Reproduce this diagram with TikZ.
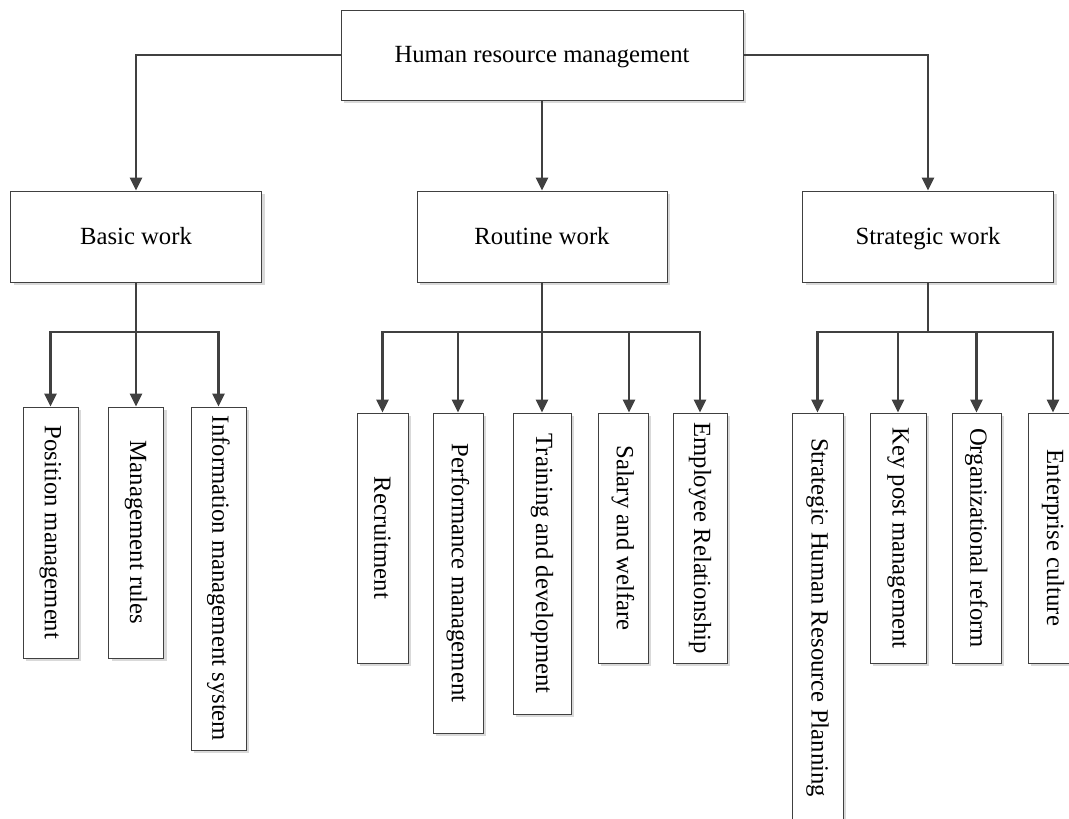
\documentclass[tikz,border=0pt]{standalone}
\usepackage{fontspec}
\setmainfont{Liberation Serif}
\usetikzlibrary{arrows.meta,shadows}
\tikzset{
    box/.style={draw=black!75, line width=1pt, fill=white, inner sep=0pt,
        drop shadow={shadow xshift=3pt, shadow yshift=-3pt, fill=black!15, opacity=1},
        font=\fontsize{24.7}{30}\selectfont},
    hbox/.style={box, text height=19pt, text depth=4pt},
    wire/.style={draw=black!75, line width=2.6pt},
    arr/.style={wire, -{Triangle[length=13pt,width=12pt]}},
}
\newcommand{\vtext}[1]{\rotatebox{-90}{#1}}
\begin{document}
\begin{tikzpicture}[x=1pt,y=-1pt]
    \useasboundingbox (0,0) rectangle (1069,819);
    \clip (0,0) rectangle (1069,819);
    \node[hbox, minimum width=402, minimum height=90] (hrm) at (542,55) {Human resource management};
    \node[hbox, minimum width=251, minimum height=91] (basic) at (136,236.5) {Basic work};
    \node[hbox, minimum width=250, minimum height=91] (routine) at (542,236.5) {Routine work};
    \node[hbox, minimum width=251, minimum height=91] (strategic) at (928,236.5) {Strategic work};
    \draw[arr] (hrm.west) -| (basic.north);
    \draw[arr] (hrm.south) -- (routine.north);
    \draw[arr] (hrm.east) -| (strategic.north);
    % basic work
    \node[box, minimum width=55, minimum height=251] (pos) at (50.5,532.5) {\vtext{Position management}};
    \node[box, minimum width=55, minimum height=251] (rules) at (136,532.5) {\vtext{Management rules}};
    \node[box, minimum width=55, minimum height=343] (info) at (218.5,578.5) {\vtext{Information management system}};
    \coordinate (bj) at (136,332);
    \draw[wire] (basic.south) -- (bj);
    \draw[arr] (bj) -| (pos.north);
    \draw[arr] (bj) -- (rules.north);
    \draw[arr] (bj) -| (info.north);
    % routine work
    \node[box, minimum width=51, minimum height=250] (recr) at (382.5,538) {\vtext{Recruitment}};
    \node[box, minimum width=50, minimum height=320] (perf) at (458,573) {\vtext{Performance management}};
    \node[box, minimum width=58, minimum height=301] (train) at (542,563.5) {\vtext{Training and development}};
    \node[box, minimum width=50, minimum height=250] (salary) at (623,538) {\vtext{Salary and welfare}};
    \node[box, minimum width=54, minimum height=250] (empl) at (700,538) {\vtext{Employee Relationship}};
    \coordinate (rj) at (542,332);
    \draw[wire] (routine.south) -- (rj);
    \draw[arr] (rj) -| (recr.north);
    \draw[arr] (rj) -| (perf.north);
    \draw[arr] (rj) -- (train.north);
    \draw[arr] (rj) -| ([xshift=6pt]salary.north);
    \draw[arr] (rj) -| (empl.north);
    % strategic work
    \node[box, minimum width=51, minimum height=409] (plan) at (817.5,617.5) {\vtext{Strategic Human Resource Planning}};
    \node[box, minimum width=56, minimum height=250] (keypost) at (898,538) {\vtext{Key post management}};
    \node[box, minimum width=49, minimum height=250] (reform) at (976.5,538) {\vtext{Organizational reform}};
    \node[box, minimum width=50, minimum height=250] (culture) at (1053,538) {\vtext{Enterprise culture}};
    \coordinate (sj) at (928,332);
    \draw[wire] (strategic.south) -- (sj);
    \draw[arr] (sj) -| (plan.north);
    \draw[arr] (sj) -| (keypost.north);
    \draw[arr] (sj) -| (reform.north);
    \draw[arr] (sj) -| (culture.north);
\end{tikzpicture}
\end{document}
